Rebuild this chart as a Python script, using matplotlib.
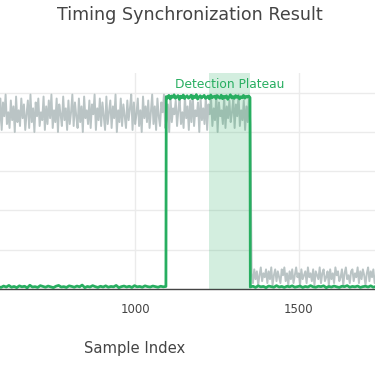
import numpy as np
import matplotlib
matplotlib.use("Agg")
import matplotlib.pyplot as plt

plt.rcParams['font.family'] = ['DejaVu Sans']

# ---------------- data ----------------
title = "Timing Synchronization Result"
x_label = "Sample Index"
plateau_label = "Detection Plateau"
n_samples = 2000
x_ticks = [0, 500, 1000, 1500]
y_ticks = [0, 0.2, 0.4, 0.6, 0.8, 1.0]
plateau_start, plateau_end = 1225, 1350

# received-signal magnitude (gray), hundredths, sampled every 4 samples
gray_high_x = np.arange(580, 1353, 4)
gray_high = [
    92, 83, 97, 81, 95, 88, 99, 84, 90, 82, 96, 86, 93, 80, 98, 85, 91, 83, 97, 87,
    94, 81, 89, 96, 82, 99, 85, 92, 80, 95, 88, 97, 83, 90, 86, 98, 81, 93, 84, 96,
    87, 99, 82, 91, 85, 97, 80, 94, 89, 83, 98, 86, 92, 81, 96, 84, 90, 99, 83, 95,
    88, 82, 97, 85, 93, 80, 98, 87, 91, 84, 96, 82, 94, 89, 99, 81, 92, 86, 97, 83,
    95, 88, 81, 98, 84, 90, 96, 82, 93, 87, 99, 80, 91, 85, 97, 83, 94, 88, 82, 96,
    86, 92, 99, 81, 95, 84, 89, 97, 83, 91, 80, 98, 87, 93, 85, 96, 82, 90, 99, 84,
    93, 81, 97, 88, 83, 95, 90, 99, 82, 86, 94, 80, 98, 85, 92, 89, 96, 83, 91, 97,
    84, 90, 82, 98, 87, 93, 81, 96, 85, 99, 83, 91, 88, 95, 80, 97, 86, 92, 84, 98,
    81, 94, 89, 97, 83, 92, 86, 99, 80, 95, 88, 91, 84, 98, 82, 93, 87, 96, 85, 90,
    97, 82, 94, 88, 99, 83, 91, 86, 96, 81, 93, 85, 98, 84,
]
gray_low_x = np.arange(1356, 1745, 4)
gray_low = [
    8, 3, 10, 5, 9, 2, 7, 11, 4, 8, 6, 10, 3, 9, 5, 11, 2, 7, 10, 4,
    9, 6, 3, 10, 7, 11, 4, 8, 2, 9, 5, 10, 3, 7, 11, 6, 8, 2, 10, 5,
    7, 9, 3, 11, 6, 8, 4, 10, 2, 9, 7, 5, 11, 3, 8, 10, 4, 6, 9, 2,
    10, 5, 8, 3, 11, 7, 9, 4, 6, 10, 2, 8, 11, 5, 7, 3, 9, 10, 4, 8,
    6, 11, 3, 9, 5, 10, 7, 2, 8, 11, 4, 9, 6, 10, 3, 7, 11, 5,
]

# timing metric (green), thousandths
green_pre_x = np.arange(582, 1095, 8)
green_pre = [
    12, 8, 15, 10, 18, 9, 13, 7, 16, 11, 14, 6, 19, 10, 12, 8, 17, 13, 9, 15,
    11, 7, 14, 18, 10, 12, 8, 16, 13, 9, 15, 11, 20, 7, 13, 10, 17, 12, 8, 14,
    10, 16, 9, 13, 11, 18, 7, 12, 15, 10, 14, 8, 17, 11, 13, 9, 16, 12, 10, 15,
    12, 9, 14, 11, 13,
]
green_plateau_x = np.arange(1095, 1352, 4)
green_plateau = [
    980, 973, 986, 968, 983, 976, 989, 971, 978, 985, 966, 982, 974, 988, 970, 979, 984, 972, 977, 987,
    969, 981, 975, 990, 967, 978, 984, 973, 980, 986, 971, 976, 983, 968, 988, 974, 979, 982, 970, 985,
    977, 972, 987, 969, 981, 975, 984, 966, 978, 989, 973, 980, 971, 985, 976, 982, 968, 979, 974, 986,
    972, 981, 977, 983, 975,
]
green_post_x = np.arange(1352, 1745, 8)
green_post = [
    10, 14, 8, 16, 11, 13, 7, 15, 12, 9, 17, 10, 13, 8, 14, 11, 16, 9, 12, 15,
    8, 13, 10, 17, 11, 9, 14, 12, 16, 7, 13, 10, 15, 11, 8, 14, 12, 17, 9, 13,
    11, 15, 8, 12, 14, 10, 16, 9, 13, 11,
]

# ---------------- styling ----------------
GREEN = "#27ae60"
GRAY = "#95a5a6"
TEXT = "#444444"
GRID = "#ebebeb"

W, H = 375, 366
fig = plt.figure(figsize=(W / 100, H / 100), dpi=100)
# plot area extends beyond the visible canvas (cropped view)
left_px, right_px, top_px, bottom_px = -192, 462, 73, 289
ax = fig.add_axes([left_px / W, 1 - bottom_px / H,
                   (right_px - left_px) / W, (bottom_px - top_px) / H])

gx = np.concatenate([gray_high_x, gray_low_x])
gy = np.concatenate([gray_high, gray_low]) / 100.0
ax.plot(gx, gy, color=GRAY, lw=1.4, alpha=0.65, zorder=2)

grx = np.concatenate([green_pre_x, green_plateau_x, green_post_x])
gry = np.concatenate([green_pre, green_plateau, green_post]) / 1000.0
ax.plot(grx, gry, color=GREEN, lw=2.0, zorder=3)

ax.axvspan(plateau_start, plateau_end, color=GREEN, alpha=0.2, lw=0, zorder=4)
ax.text((plateau_start + plateau_end) / 2, 1.04, plateau_label, color=GREEN,
        ha="center", va="center", fontsize=8.8, zorder=5)

ax.set_xlim(0, n_samples - 1)
ax.set_ylim(0, 1.1)
ax.set_xticks(x_ticks)
ax.set_yticks(y_ticks)
ax.grid(True, color=GRID, lw=1, zorder=0)
ax.set_axisbelow(True)
ax.tick_params(length=0, colors=TEXT, labelsize=8.5, pad=10)
for s in ["top", "right", "left"]:
    ax.spines[s].set_visible(False)
ax.spines["bottom"].set_color(TEXT)
ax.spines["bottom"].set_linewidth(1)

fig.text(135 / W, 1 - 349 / H, x_label, ha="center", va="center",
         fontsize=10.6, color=TEXT)
fig.text(190 / W, 1 - 15 / H, title, ha="center", va="center",
         fontsize=12.6, color=TEXT)

fig.savefig("out.png", dpi=100)
